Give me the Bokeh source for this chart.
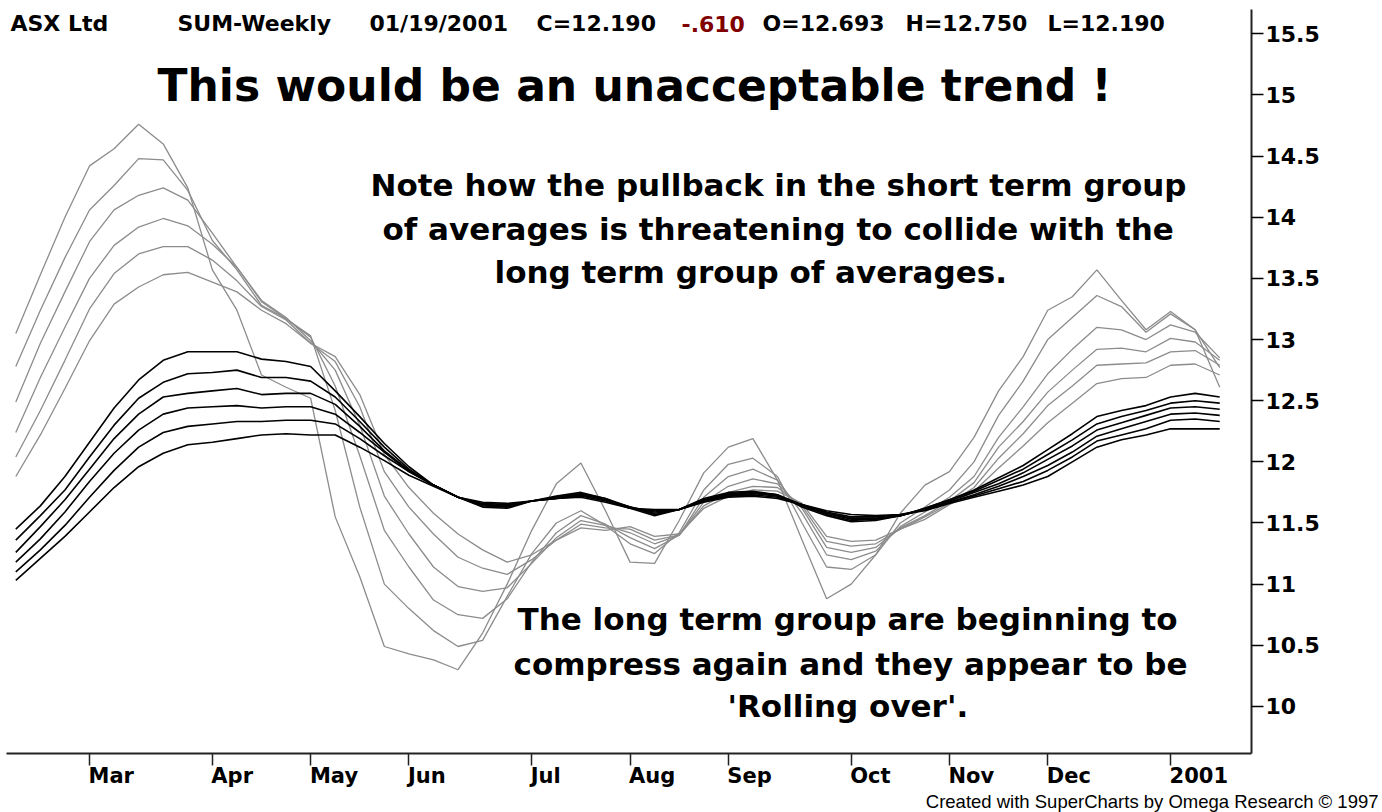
import pandas as pd
from bokeh.plotting import figure
from bokeh.models import FixedTicker, Label, Title
from bokeh.embed import file_html
from bokeh.resources import INLINE

# ---------------- data ----------------
# weekly bars (Friday dates), 11 Feb 2000 .. 19 Jan 2001
weeks = list(pd.date_range("2000-02-11", periods=50, freq="7D"))

# short term group of exponential averages (grey)
short_3 = [13.05, 13.53, 14.00, 14.42, 14.56, 14.76, 14.60, 14.24, 13.57, 13.24,
           12.71, 12.61, 12.52, 11.55, 11.06, 10.49, 10.43, 10.38, 10.30, 10.60,
           11.00, 11.44, 11.82, 11.99, 11.60, 11.18, 11.17, 11.52, 11.91, 12.12,
           12.19, 11.85, 11.36, 10.88, 11.00, 11.24, 11.58, 11.81, 11.92, 12.20,
           12.58, 12.86, 13.24, 13.35, 13.57, 13.32, 13.08, 13.23, 13.08, 12.61]
short_5 = [12.78, 13.24, 13.67, 14.06, 14.26, 14.48, 14.47, 14.22, 13.81, 13.57,
           13.28, 13.17, 13.03, 12.42, 11.63, 11.00, 10.80, 10.62, 10.49, 10.54,
           10.90, 11.25, 11.50, 11.60, 11.48, 11.33, 11.25, 11.42, 11.77, 11.98,
           12.03, 11.88, 11.50, 11.14, 11.12, 11.24, 11.50, 11.63, 11.77, 12.00,
           12.38, 12.66, 13.00, 13.18, 13.36, 13.27, 13.06, 13.21, 13.08, 12.77]
short_8 = [12.49, 12.97, 13.39, 13.80, 14.06, 14.18, 14.24, 14.14, 13.87, 13.59,
           13.31, 13.17, 13.02, 12.62, 12.05, 11.44, 11.14, 10.87, 10.75, 10.72,
           10.88, 11.18, 11.42, 11.56, 11.49, 11.38, 11.29, 11.40, 11.71, 11.88,
           11.94, 11.85, 11.58, 11.24, 11.20, 11.27, 11.47, 11.59, 11.71, 11.88,
           12.20, 12.45, 12.72, 12.92, 13.10, 13.08, 13.00, 13.12, 13.06, 12.85]
short_10 = [12.24, 12.69, 13.10, 13.50, 13.77, 13.92, 13.99, 13.93, 13.78, 13.59,
            13.32, 13.18, 12.99, 12.75, 12.30, 11.72, 11.41, 11.14, 10.98, 10.94,
            10.97, 11.17, 11.38, 11.52, 11.48, 11.42, 11.33, 11.40, 11.67, 11.80,
            11.86, 11.82, 11.62, 11.30, 11.26, 11.30, 11.46, 11.56, 11.68, 11.83,
            12.12, 12.33, 12.57, 12.75, 12.92, 12.93, 12.90, 13.01, 12.98, 12.83]
short_12 = [12.04, 12.42, 12.83, 13.25, 13.54, 13.70, 13.76, 13.76, 13.65, 13.48,
            13.27, 13.16, 12.97, 12.82, 12.45, 11.92, 11.63, 11.41, 11.22, 11.13,
            11.08, 11.20, 11.36, 11.49, 11.46, 11.45, 11.36, 11.40, 11.64, 11.75,
            11.80, 11.79, 11.64, 11.35, 11.31, 11.33, 11.45, 11.55, 11.66, 11.79,
            12.03, 12.23, 12.46, 12.62, 12.79, 12.80, 12.81, 12.90, 12.91, 12.79]
short_15 = [11.88, 12.22, 12.60, 12.99, 13.29, 13.43, 13.53, 13.55, 13.47, 13.39,
            13.24, 13.13, 12.97, 12.86, 12.55, 12.06, 11.79, 11.58, 11.41, 11.28,
            11.18, 11.24, 11.36, 11.46, 11.44, 11.47, 11.39, 11.41, 11.62, 11.72,
            11.77, 11.76, 11.66, 11.39, 11.35, 11.36, 11.45, 11.53, 11.65, 11.76,
            11.95, 12.13, 12.32, 12.48, 12.64, 12.68, 12.69, 12.79, 12.80, 12.71]

# long term group of exponential averages (black)
long_30 = [11.45, 11.64, 11.88, 12.16, 12.44, 12.67, 12.83, 12.90, 12.90, 12.90,
           12.84, 12.82, 12.78, 12.58, 12.37, 12.15, 11.96, 11.81, 11.71, 11.63,
           11.62, 11.68, 11.72, 11.75, 11.70, 11.62, 11.56, 11.61, 11.70, 11.75,
           11.76, 11.73, 11.63, 11.56, 11.51, 11.52, 11.56, 11.62, 11.69, 11.77,
           11.87, 11.97, 12.10, 12.23, 12.37, 12.42, 12.46, 12.53, 12.56, 12.53]
long_35 = [11.36, 11.56, 11.77, 12.04, 12.30, 12.52, 12.65, 12.72, 12.73, 12.75,
           12.69, 12.69, 12.66, 12.53, 12.33, 12.12, 11.94, 11.81, 11.71, 11.64,
           11.63, 11.68, 11.71, 11.74, 11.70, 11.63, 11.57, 11.61, 11.69, 11.74,
           11.75, 11.73, 11.64, 11.57, 11.52, 11.53, 11.56, 11.62, 11.69, 11.76,
           11.85, 11.94, 12.06, 12.18, 12.31, 12.37, 12.42, 12.48, 12.50, 12.48]
long_40 = [11.26, 11.47, 11.69, 11.94, 12.19, 12.39, 12.53, 12.56, 12.58, 12.60,
           12.55, 12.56, 12.56, 12.47, 12.29, 12.09, 11.93, 11.81, 11.71, 11.65,
           11.64, 11.68, 11.71, 11.73, 11.69, 11.63, 11.58, 11.61, 11.69, 11.73,
           11.75, 11.73, 11.65, 11.58, 11.53, 11.53, 11.56, 11.61, 11.68, 11.75,
           11.82, 11.91, 12.02, 12.13, 12.26, 12.32, 12.38, 12.44, 12.45, 12.43]
long_45 = [11.18, 11.37, 11.59, 11.84, 12.07, 12.26, 12.39, 12.44, 12.45, 12.46,
           12.44, 12.45, 12.45, 12.39, 12.24, 12.08, 11.92, 11.81, 11.71, 11.65,
           11.64, 11.68, 11.70, 11.73, 11.69, 11.63, 11.59, 11.61, 11.68, 11.72,
           11.74, 11.72, 11.65, 11.58, 11.54, 11.54, 11.56, 11.61, 11.67, 11.73,
           11.80, 11.88, 11.97, 12.08, 12.21, 12.27, 12.33, 12.39, 12.40, 12.38]
long_50 = [11.10, 11.28, 11.48, 11.71, 11.93, 12.12, 12.24, 12.29, 12.31, 12.33,
           12.33, 12.34, 12.34, 12.31, 12.19, 12.05, 11.92, 11.81, 11.71, 11.66,
           11.65, 11.68, 11.70, 11.72, 11.68, 11.62, 11.60, 11.61, 11.68, 11.72,
           11.73, 11.71, 11.65, 11.59, 11.55, 11.55, 11.57, 11.61, 11.67, 11.72,
           11.78, 11.84, 11.93, 12.04, 12.17, 12.22, 12.27, 12.34, 12.35, 12.33]
long_60 = [11.03, 11.21, 11.39, 11.59, 11.79, 11.96, 12.07, 12.14, 12.16, 12.19,
           12.22, 12.23, 12.22, 12.22, 12.12, 12.01, 11.89, 11.80, 11.71, 11.67,
           11.66, 11.68, 11.70, 11.71, 11.67, 11.62, 11.61, 11.61, 11.67, 11.71,
           11.72, 11.70, 11.65, 11.60, 11.57, 11.56, 11.57, 11.60, 11.66, 11.71,
           11.76, 11.81, 11.88, 12.00, 12.12, 12.18, 12.22, 12.27, 12.27, 12.27]

y_ticks = [10, 10.5, 11, 11.5, 12, 12.5, 13, 13.5, 14, 14.5, 15, 15.5]

header = [("ASX Ltd", "black"), ("SUM-Weekly", "black"), ("01/19/2001", "black"),
          ("C=12.190", "black"), ("-.610", "#800000"), ("O=12.693", "black"),
          ("H=12.750", "black"), ("L=12.190", "black")]
title_text = "This would be an unacceptable trend !"
note_top = ["Note how the pullback in the short term group",
            "of averages is threatening to collide with the",
            "long term group of averages."]
note_bottom = ["The long term group are beginning to",
               "compress again and they appear to be",
               "'Rolling over'."]
footer = "Created with SuperCharts by Omega Research \u00a9 1997"

# ---------------- layout ----------------
W, H = 1382, 812
FRAME_L, FRAME_R, FRAME_T, FRAME_B = 6, 1251, 9, 753
X0 = (FRAME_L - 15.3) / 24.57
X1 = (FRAME_R - 15.3) / 24.57
PX_PER_BAR = (FRAME_R - FRAME_L) / (X1 - X0)
FONT = "DejaVu Sans"

p = figure(width=W, height=H, x_range=(X0, X1), y_range=(9.615, 15.699),
           y_axis_location="right", toolbar_location=None, output_backend="svg",
           min_border_left=FRAME_L, min_border_right=W - FRAME_R,
           min_border_top=FRAME_T, min_border_bottom=H - FRAME_B)
p.outline_line_color = None
p.grid.visible = False
p.background_fill_color = "white"
p.border_fill_color = "white"

x = list(range(len(weeks)))
for ys in (short_3, short_5, short_8, short_10, short_12, short_15):
    p.line(x, ys, line_color="#8c8c8c", line_width=1.3)
for ys in (long_30, long_35, long_40, long_45, long_50, long_60):
    p.line(x, ys, line_color="#000000", line_width=1.6)

# ---- y axis (right) ----
ya = p.yaxis[0]
ya.ticker = FixedTicker(ticks=y_ticks)
ya.major_label_overrides = {t: ("%g" % t) for t in y_ticks}
ya.axis_line_width = 2
ya.axis_line_color = "#222222"
ya.major_tick_out = 12
ya.major_tick_in = 0
ya.major_tick_line_width = 1.5
ya.minor_tick_line_color = None
ya.major_label_standoff = 2
ya.major_label_text_font = FONT
ya.major_label_text_font_style = "bold"
ya.major_label_text_font_size = "22px"
ya.major_label_text_color = "black"

# ---- x axis: month starts as minor ticks, labels left-aligned after tick ----
adv = {'M': .995, 'a': .675, 'r': .493, 'A': .774, 'p': .716, 'y': .652, 'J': .372,
       'u': .712, 'n': .712, 'l': .343, 'g': .716, 'S': .720, 'e': .678, 'O': .850,
       'c': .593, 't': .478, 'N': .837, 'o': .687, 'v': .652, 'D': .830, '0': .696,
       '1': .696, '2': .696}
XFS = 21
month_ticks, label_pos, overrides = [], [], {}
for i in range(1, len(weeks)):
    if weeks[i].month != weeks[i - 1].month:
        lab = str(weeks[i].year) if weeks[i].month == 1 else weeks[i].strftime("%b")
        w = sum(adv.get(c, .7) for c in lab) * XFS
        pos = round(i + (-1 + w / 2) / PX_PER_BAR, 4)
        month_ticks.append(i)
        label_pos.append(pos)
        overrides[pos] = lab
xa = p.xaxis[0]
xa.ticker = FixedTicker(ticks=label_pos, minor_ticks=month_ticks)
xa.major_label_overrides = overrides
xa.major_tick_line_color = None
xa.major_tick_out = 6
xa.major_tick_in = 0
xa.minor_tick_out = 12
xa.minor_tick_in = 0
xa.minor_tick_line_color = "#222222"
xa.minor_tick_line_width = 1.5
xa.axis_line_width = 2
xa.axis_line_color = "#222222"
xa.major_label_standoff = -2
xa.major_label_text_font = FONT
xa.major_label_text_font_style = "bold"
xa.major_label_text_font_size = "%dpx" % XFS
xa.major_label_text_color = "black"

# footer credit line below the axis
p.add_layout(Title(text=footer, align="right", offset=-127, standoff=-1,
                   vertical_align="middle", text_font="Liberation Sans",
                   text_font_style="normal", text_font_size="18.5px",
                   text_color="black"), "below")

BASE_SHIFT = 0.36   # measured offset of rendered baseline, in em


def put(text, px, baseline, size, color="black", style="bold", font=FONT, align="left"):
    p.add_layout(Label(x=px - FRAME_L, y=FRAME_B - (baseline - BASE_SHIFT * size),
                       x_units="screen", y_units="screen", text=text, text_font=font,
                       text_font_size="%gpx" % size, text_font_style=style,
                       text_color=color, text_align=align,
                       text_baseline="alphabetic"))


header_x = [10, 177, 369, 536, 681, 762, 905, 1047]
for (t, c), hx in zip(header, header_x):
    put(t, hx, 31, 22, color=c)

put(title_text, 157, 101, 44)
for t, lx, by in zip(note_top, [370, 382, 494], [196, 240, 283]):
    put(t, lx, by, 31)
for t, lx, by in zip(note_bottom, [517, 513, 727], [630, 675, 717]):
    put(t, lx, by, 31)

open("out.html", "w").write(file_html(p, INLINE))
